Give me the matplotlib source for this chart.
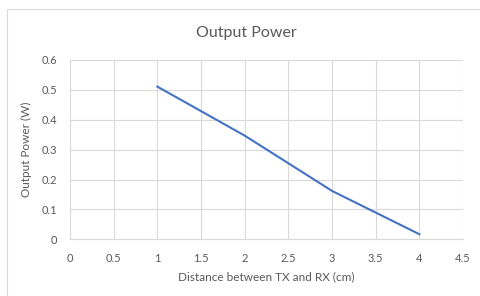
import matplotlib.pyplot as plt
from matplotlib.patches import Rectangle

# data
distance = [1, 2, 3, 4]
power = [0.511, 0.347, 0.162, 0.017]
x_ticks = [0, 0.5, 1, 1.5, 2, 2.5, 3, 3.5, 4, 4.5]
y_ticks = [0, 0.1, 0.2, 0.3, 0.4, 0.5, 0.6]

plt.rcParams['font.family'] = ['Lato', 'DejaVu Sans']
text_col = '#595959'
grid_col = '#d9d9d9'

fig = plt.figure(figsize=(4.81, 2.96), dpi=100)
fig.patches.append(Rectangle((7 / 481, -0.1), 1.2, 1 - 9 / 296 + 0.1,
                             transform=fig.transFigure, fill=False,
                             edgecolor='#d9d9d9', linewidth=0.8))
ax = fig.add_axes([70 / 481, 1 - 239.3 / 296, (463 - 70) / 481, (239.3 - 60) / 296])

ax.plot(distance, power, color='#4472c4', linewidth=1.5)

ax.set_xlim(0, 4.5)
ax.set_ylim(0, 0.6)
ax.set_xticks(x_ticks)
ax.set_xticklabels([('%g' % v) for v in x_ticks])
ax.set_yticks(y_ticks)
ax.set_yticklabels([('%g' % v) for v in y_ticks])
ax.grid(True, color=grid_col, linewidth=0.8)
ax.set_axisbelow(True)
for s in ['top', 'right', 'left']:
    ax.spines[s].set_visible(False)
ax.spines['bottom'].set_color(grid_col)
ax.spines['bottom'].set_linewidth(0.8)
ax.tick_params(length=0, labelsize=8, colors=text_col)
ax.tick_params(axis='x', pad=10)
ax.tick_params(axis='y', pad=9)

ax.set_xlabel("Distance between TX and RX (cm)", fontsize=8.5, color=text_col, labelpad=5)
ax.set_ylabel("Output Power (W)", fontsize=8.5, color=text_col, labelpad=7)
fig.text(246 / 481, 1 - 33 / 296, "Output Power", fontsize=11.5, color=text_col,
         ha='center', va='center')

plt.savefig("out.png", dpi=100)
